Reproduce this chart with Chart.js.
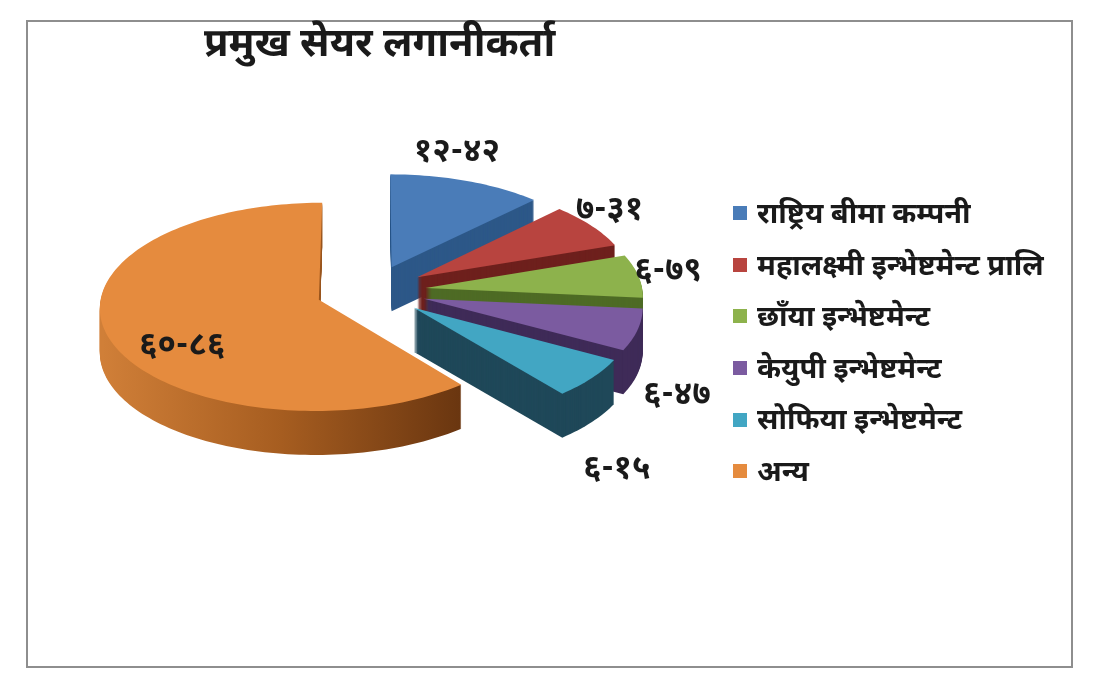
<!DOCTYPE html>
<html>
<head>
<meta charset="utf-8">
<title>प्रमुख सेयर लगानीकर्ता</title>
<script src="https://cdn.jsdelivr.net/npm/chart.js@4.4.1/dist/chart.umd.min.js"></script>
<style>
  body { margin: 0; background: #fff; }
  #wrap { position: relative; width: 1100px; height: 687px; overflow: hidden; }
  #frame { position: absolute; left: 26px; top: 20px; width: 1043px; height: 644px; border: 2px solid #8e8e8e; }
  #chartBox { position: absolute; left: 0; top: 0; width: 1100px; height: 687px; }
  .dev { font-family: "Noto Sans Devanagari", "Lohit Devanagari", "Mangal", "Noto Sans", sans-serif; font-weight: bold; color: #1a1a1a; }
  #title { position: absolute; left: 204px; top: 20px; font-size: 40px; }
  #legend { position: absolute; left: 733px; top: 191px; list-style: none; margin: 0; padding: 0; }
  #legend li { height: 51.6px; line-height: 51.6px; font-size: 29px; white-space: nowrap; }
  #legend span.box { display: inline-block; width: 14px; height: 14px; margin-right: 10px; vertical-align: middle; position: relative; top: -2px; }
</style>
</head>
<body>
<div id="wrap">
  <div id="frame"></div>
  <div id="chartBox"><canvas id="pieChart"></canvas></div>
  <div id="title" class="dev">प्रमुख सेयर लगानीकर्ता</div>
  <ul id="legend" class="dev"></ul>
</div>
<script>
// share of holdings (percent)
const holders = [
  'राष्ट्रिय बीमा कम्पनी',
  'महालक्ष्मी इन्भेष्टमेन्ट प्रालि',
  'छाँया इन्भेष्टमेन्ट',
  'केयुपी इन्भेष्टमेन्ट',
  'सोफिया इन्भेष्टमेन्ट',
  'अन्य'
];
const shares = [12.42, 7.31, 6.79, 6.47, 6.15, 60.86];

const topColors = ['#4a7cb8', '#b8443f', '#8db24c', '#7b5ba0', '#42a6c3', '#e58b3e'];
const sideColors = ['#2d5888', '#6e201d', '#4e6b25', '#3f2b58', '#1f4859', '#b06525'];

const tilt = 0.472;   // vertical squash of the pie plane
const eye = 3190;     // perspective distance, back of the pie looks smaller
const depth = 44;     // thickness of the slab in px
const explode = 55;   // how far each slice is pulled out

const devDigits = '०१२३४५६७८९';
function toNepali(v) {
  return v.toFixed(2).replace(/\d/g, d => devDigits[d]).replace('.', '-');
}

// legend built from the same arrays
const legend = document.getElementById('legend');
holders.forEach((name, i) => {
  const li = document.createElement('li');
  const box = document.createElement('span');
  box.className = 'box';
  box.style.background = topColors[i];
  li.appendChild(box);
  li.appendChild(document.createTextNode(name));
  legend.appendChild(li);
});

// flat pie coords -> tilted view
function project(cx, cy, px, py, lift) {
  const u = px - cx, v = py - cy;
  const f = eye / (eye - v);
  return [cx + u * f, cy + v * tilt * f + lift];
}

function slicePath(ctx, arc, lift) {
  const mid = (arc.startAngle + arc.endAngle) / 2;
  const x = arc.x + Math.cos(mid) * explode;
  const y = arc.y + Math.sin(mid) * explode;
  const steps = Math.ceil((arc.endAngle - arc.startAngle) * 40);
  ctx.beginPath();
  ctx.moveTo(...project(arc.x, arc.y, x, y, lift));
  for (let k = 0; k <= steps; k++) {
    const a = arc.startAngle + (arc.endAngle - arc.startAngle) * k / steps;
    ctx.lineTo(...project(arc.x, arc.y, x + Math.cos(a) * arc.outerRadius, y + Math.sin(a) * arc.outerRadius, lift));
  }
  ctx.closePath();
  ctx.fill();
}

const pie3d = {
  id: 'pie3d',
  beforeDatasetsDraw(chart) {
    const ctx = chart.ctx;
    const arcs = chart.getDatasetMeta(0).data;

    // side walls of the big slice get a light-to-dark sweep
    const big = arcs.length - 1;
    const bigMid = (arcs[big].startAngle + arcs[big].endAngle) / 2;
    const bx = arcs[big].x + Math.cos(bigMid) * explode;
    const r = arcs[big].outerRadius;
    const grad = ctx.createLinearGradient(bx - r, 0, bx + r * 0.65, 0);
    grad.addColorStop(0, '#d07f38');
    grad.addColorStop(0.5, '#a65d20');
    grad.addColorStop(1, '#6a3610');

    // stack the slice shape downwards, deepest first
    for (let d = depth; d > 0; d--) {
      arcs.forEach((arc, i) => {
        ctx.fillStyle = i === big ? grad : sideColors[i];
        slicePath(ctx, arc, d);
      });
    }
    // top faces
    arcs.forEach((arc, i) => {
      ctx.fillStyle = topColors[i];
      slicePath(ctx, arc, 0);
    });
    return false;
  },
  afterDraw(chart) {
    const ctx = chart.ctx;
    const arcs = chart.getDatasetMeta(0).data;
    const values = chart.data.datasets[0].data;
    ctx.save();
    ctx.font = 'bold 33px "Noto Sans Devanagari", "Lohit Devanagari", "Mangal", "Noto Sans", sans-serif';
    ctx.fillStyle = '#1a1a1a';
    ctx.textAlign = 'center';
    ctx.textBaseline = 'middle';
    arcs.forEach((arc, i) => {
      const mid = (arc.startAngle + arc.endAngle) / 2;
      const c = Math.cos(mid), s = Math.sin(mid);
      let lx, ly;
      if (values[i] > 50) {
        // big slice: label sits on its top face
        const R = explode + arc.outerRadius * 0.67;
        lx = arc.x + c * R;
        ly = arc.y + s * R * tilt + depth * 0.6;
      } else if (s < 0) {
        // back slices, label just past the rim
        const R = 300;
        lx = arc.x + c * R * (0.6 + 0.4 * Math.abs(c));
        ly = arc.y + s * (R * tilt + 6);
      } else {
        // front slices, label below the side wall
        const R = 320;
        lx = arc.x + c * R;
        ly = arc.y + s * (R * tilt + 63) + depth;
      }
      ctx.fillText(toNepali(values[i]), lx, ly);
    });
    ctx.restore();
  }
};

new Chart(document.getElementById('pieChart'), {
  type: 'pie',
  data: {
    labels: holders,
    datasets: [{
      data: shares,
      backgroundColor: topColors,
      borderWidth: 0
    }]
  },
  options: {
    responsive: true,
    maintainAspectRatio: false,
    animation: false,
    radius: 217,
    layout: { padding: { left: 0, top: 0, right: 358, bottom: 105 } },
    plugins: {
      legend: { display: false },
      title: { display: false },
      tooltip: { enabled: false }
    }
  },
  plugins: [pie3d]
});
</script>
</body>
</html>
